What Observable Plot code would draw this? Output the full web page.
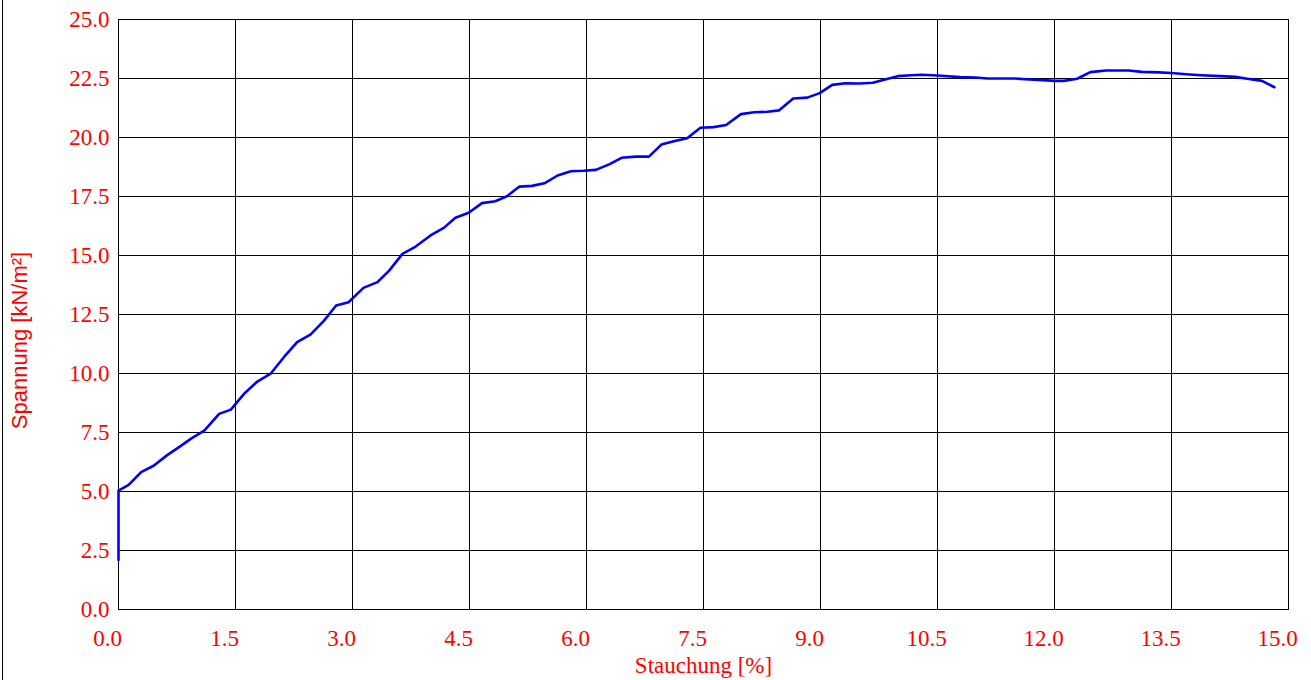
<!DOCTYPE html>
<html>
<head>
<meta charset="utf-8">
<script src="https://cdn.jsdelivr.net/npm/d3@7"></script>
<script src="https://cdn.jsdelivr.net/npm/@observablehq/plot@0.6"></script>
<style>
  html, body { margin: 0; padding: 0; background: #fff; }
  #wrap { position: relative; width: 1311px; height: 680px; }
  #edge { position: absolute; left: 2px; top: 0; width: 0; height: 680px; border-left: 1px solid #000; }
</style>
</head>
<body>
<div id="wrap"><div id="edge"></div></div>
<script>
const strain = [0, 0, 0.13, 0.29, 0.45, 0.62, 0.79, 0.94, 1.10, 1.29, 1.44, 1.61, 1.78, 1.95, 2.12, 2.29, 2.46, 2.63, 2.79, 2.95, 3.14, 3.32, 3.47, 3.64, 3.81, 4.00, 4.17, 4.32, 4.49, 4.66, 4.83, 4.98, 5.14, 5.30, 5.46, 5.63, 5.80, 5.96, 6.12, 6.29, 6.45, 6.63, 6.80, 6.96, 7.12, 7.29, 7.46, 7.63, 7.79, 7.98, 8.15, 8.32, 8.47, 8.65, 8.83, 8.99, 9.15, 9.32, 9.50, 9.67, 9.84, 9.99, 10.16, 10.30, 10.50, 10.79, 10.99, 11.14, 11.48, 11.68, 11.85, 12.00, 12.12, 12.29, 12.46, 12.66, 12.80, 12.95, 13.12, 13.34, 13.50, 13.69, 13.88, 14.13, 14.32, 14.47, 14.66, 14.82];
const stress = [2.1, 5.04, 5.28, 5.82, 6.09, 6.53, 6.91, 7.26, 7.58, 8.29, 8.47, 9.14, 9.66, 9.99, 10.69, 11.33, 11.65, 12.22, 12.88, 13.02, 13.63, 13.87, 14.36, 15.07, 15.38, 15.85, 16.17, 16.6, 16.81, 17.22, 17.3, 17.51, 17.92, 17.95, 18.06, 18.39, 18.57, 18.59, 18.63, 18.86, 19.14, 19.19, 19.19, 19.70, 19.84, 19.97, 20.41, 20.44, 20.53, 20.99, 21.07, 21.09, 21.15, 21.65, 21.69, 21.88, 22.23, 22.30, 22.29, 22.32, 22.47, 22.60, 22.64, 22.66, 22.63, 22.56, 22.54, 22.50, 22.50, 22.46, 22.43, 22.40, 22.40, 22.49, 22.77, 22.84, 22.84, 22.84, 22.78, 22.76, 22.73, 22.68, 22.64, 22.60, 22.57, 22.49, 22.40, 22.13];
const xTicks = [0, 1.5, 3, 4.5, 6, 7.5, 9, 10.5, 12, 13.5, 15];
const yTicks = [0, 2.5, 5, 7.5, 10, 12.5, 15, 17.5, 20, 22.5, 25];
const xLabel = "Stauchung [%]";
const yLabel = "Spannung [kN/m²]";

const data = strain.map((x, i) => ({x, y: stress[i]}));

const chart = Plot.plot({
  width: 1311,
  height: 680,
  marginLeft: 118,
  marginRight: 23,
  marginTop: 19,
  marginBottom: 71,
  style: {fontFamily: "'Liberation Serif', 'Times New Roman', serif", fontSize: "23px", background: "transparent"},
  x: {domain: [0, 15]},
  y: {domain: [0, 25]},
  marks: [
    Plot.ruleX(xTicks, {stroke: "#000", strokeWidth: 1}),
    Plot.ruleY(yTicks, {stroke: "#000", strokeWidth: 1}),
    Plot.frame({stroke: "#000", strokeWidth: 1}),
    Plot.axisX({ticks: xTicks, tickSize: 0, tickPadding: 20, tickFormat: d => d.toFixed(1), fill: "red", fontSize: 23, dx: -11, label: null}),
    Plot.axisY({ticks: yTicks, tickSize: 0, tickPadding: 9, tickFormat: d => d.toFixed(1), fill: "red", fontSize: 23, label: null}),
    Plot.line(data, {x: "x", y: "y", stroke: "#0000ff", strokeWidth: 2.6, strokeLinejoin: "round"}),
    Plot.text([xLabel], {frameAnchor: "bottom", dy: 63, fill: "red", fontSize: 23, fontFamily: "'Liberation Serif', serif"}),
    Plot.text([yLabel], {frameAnchor: "left", textAnchor: "middle", rotate: -90, dx: -99, dy: 26, fill: "red", fontSize: 22, fontFamily: "'Liberation Sans', Arial, sans-serif"})
  ]
});
document.getElementById("wrap").appendChild(chart);
chart.style.position = "absolute";
chart.style.left = "0";
chart.style.top = "0";
</script>
</body>
</html>
